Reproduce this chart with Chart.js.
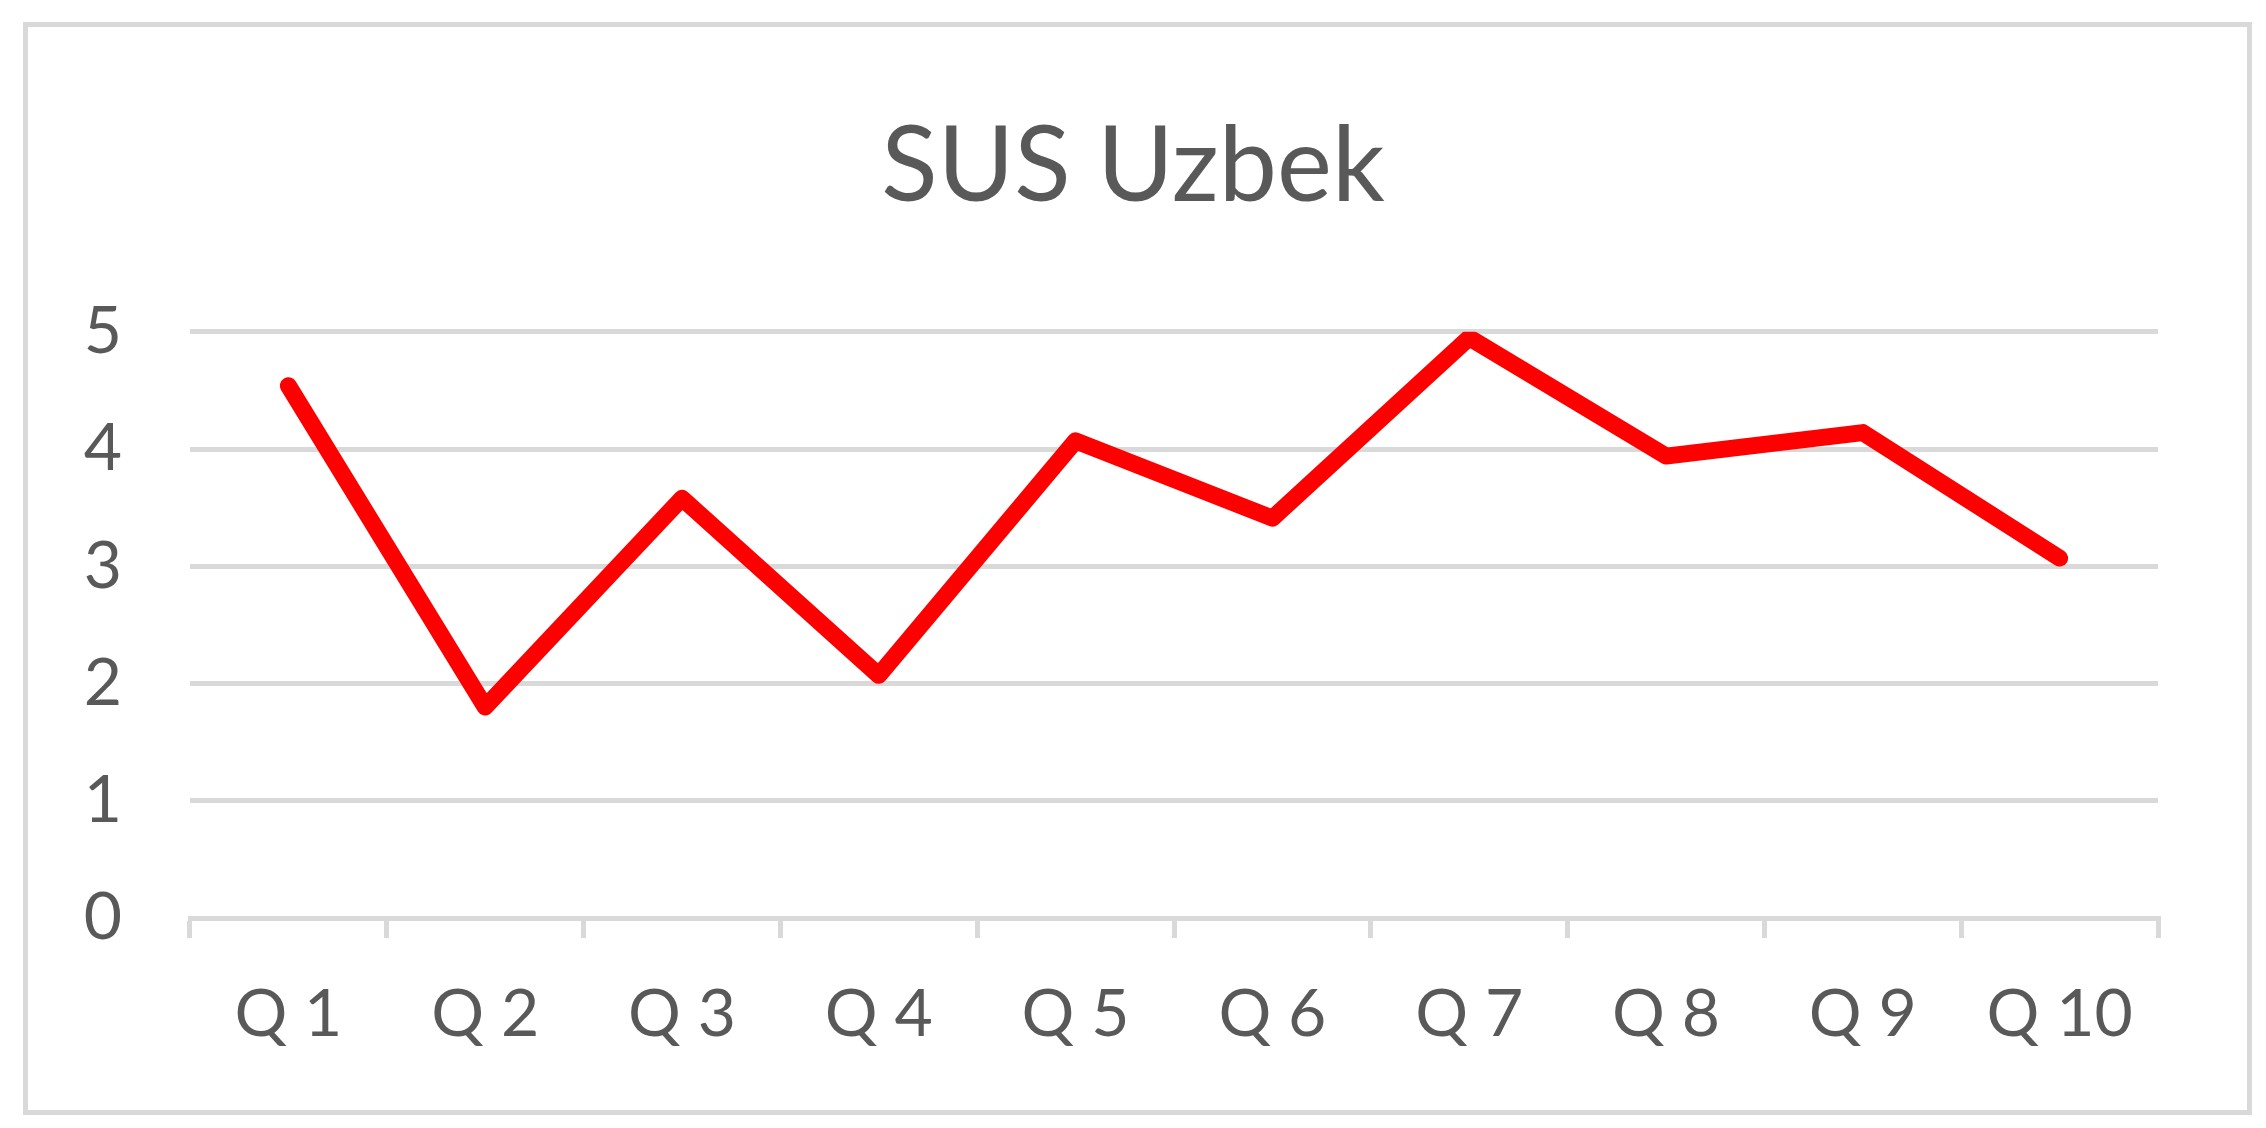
<!DOCTYPE html>
<html lang="en">
<head>
    <meta charset="UTF-8">
    <title>SUS Uzbek</title>
    <script src="https://cdn.jsdelivr.net/npm/chart.js"></script>
    <style>
        html, body { margin: 0; padding: 0; background: #fff; }
        #frame {
            position: absolute; left: 23px; top: 22px;
            width: 2229px; height: 1093px;
            box-sizing: border-box; border: 5px solid #d9d9d9;
        }
        #susChart { position: absolute; left: 0; top: 0; }
    </style>
</head>
<body>
    <div id="frame"></div>
    <canvas id="susChart" width="2266" height="1128"></canvas>

    <script>
        // question labels and mean scores
        var questions = ['Q 1', 'Q 2', 'Q 3', 'Q 4', 'Q 5', 'Q 6', 'Q 7', 'Q 8', 'Q 9', 'Q 10'];
        var scores = [4.54, 1.8, 3.58, 2.07, 4.07, 3.41, 4.95, 3.94, 4.14, 3.07];
        var yTicks = [0, 1, 2, 3, 4, 5];

        var textColor = '#595959';
        var gridColor = '#d9d9d9';
        var fontName = 'Lato';

        var ctx = document.getElementById('susChart').getContext('2d');
        var susChart = new Chart(ctx, {
            type: 'line',
            data: {
                labels: questions,
                datasets: [{
                    label: 'SUS Uzbek',
                    data: scores,
                    borderColor: '#ff0000',
                    borderWidth: 17,
                    borderCapStyle: 'round',
                    borderJoinStyle: 'round',
                    pointRadius: 0,
                    fill: false,
                    tension: 0
                }]
            },
            options: {
                responsive: false,
                animation: false,
                devicePixelRatio: 1,
                layout: { padding: 0 },
                plugins: {
                    legend: { display: false },
                    tooltip: { enabled: false },
                    title: {
                        display: true,
                        text: 'SUS Uzbek',
                        color: textColor,
                        font: { family: fontName, size: 104, weight: 'normal' },
                        padding: { top: 105, bottom: 102 }
                    }
                },
                scales: {
                    x: {
                        offset: true,
                        grid: {
                            offset: true,
                            drawOnChartArea: false,
                            drawTicks: true,
                            tickLength: 20,
                            color: gridColor,
                            lineWidth: 5
                        },
                        border: { display: true, color: gridColor, width: 5 },
                        ticks: {
                            color: textColor,
                            font: { family: fontName, size: 66 },
                            padding: 37,
                            maxRotation: 0
                        },
                        afterFit: function (scale) { scale.height = 210; }
                    },
                    y: {
                        min: 0,
                        max: 5,
                        afterBuildTicks: function (scale) {
                            scale.ticks = yTicks.map(function (v) { return { value: v }; });
                        },
                        grid: { color: gridColor, lineWidth: 5, drawTicks: false },
                        border: { display: false },
                        ticks: {
                            color: textColor,
                            font: { family: fontName, size: 66 },
                            padding: 68
                        },
                        afterFit: function (scale) { scale.width = 190; }
                    },
                    // empty right-hand axis that only reserves the right margin
                    yRight: {
                        position: 'right',
                        grid: { display: false },
                        border: { display: false },
                        ticks: { display: false },
                        afterFit: function (scale) { scale.width = 108; }
                    }
                }
            }
        });
    </script>
</body>
</html>
